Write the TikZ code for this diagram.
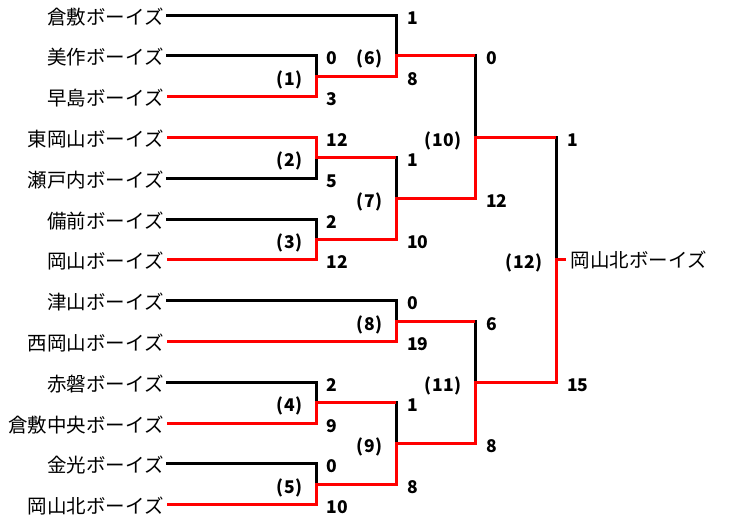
\documentclass[tikz,border=0pt]{standalone}
\usepackage{fontspec}
\newfontfamily\jp{Noto Sans CJK JP}
\begin{document}
\begin{tikzpicture}[x=1pt,y=-1pt,
  lw/.style={line width=3pt},
  lose/.style={lw, black, line cap=rect},
  win/.style={lw, red, line join=miter},
  team/.style={inner sep=0pt, anchor=base east, font=\jp\fontsize{19.5}{20}\selectfont},
  champ/.style={inner sep=0pt, anchor=base west, font=\jp\fontsize{19.5}{20}\selectfont},
  score/.style={inner sep=0pt, anchor=base west, font=\jp\bfseries\fontsize{17.5}{18}\selectfont},
  match/.style={inner sep=0pt, anchor=base east, font=\jp\bfseries\fontsize{17.5}{18}\selectfont}]
\useasboundingbox (0,0) rectangle (740,520);
% team line starts
\coordinate (A1) at (167,15);
\coordinate (A2) at (167,55.8);
\coordinate (A3) at (167,96.6);
\coordinate (A4) at (167,137.4);
\coordinate (A5) at (167,178.2);
\coordinate (A6) at (167,219);
\coordinate (A7) at (167,259.8);
\coordinate (A8) at (167,300.6);
\coordinate (A9) at (167,341.4);
\coordinate (A10) at (167,382.2);
\coordinate (A11) at (167,423);
\coordinate (A12) at (167,463.8);
\coordinate (A13) at (167,504.6);
% match verticals: top, bottom, output
\coordinate (m1T) at (316,55.8);  \coordinate (m1B) at (316,96.6);  \coordinate (m1O) at (316,76.2);
\coordinate (m2T) at (316,137.4); \coordinate (m2B) at (316,178.2); \coordinate (m2O) at (316,157.8);
\coordinate (m3T) at (316,219);   \coordinate (m3B) at (316,259.8); \coordinate (m3O) at (316,239.4);
\coordinate (m4T) at (316,382.2); \coordinate (m4B) at (316,423);   \coordinate (m4O) at (316,402.6);
\coordinate (m5T) at (316,463.8); \coordinate (m5B) at (316,504.6); \coordinate (m5O) at (316,484.2);
\coordinate (m6T) at (396,15);    \coordinate (m6B) at (396,76.2);  \coordinate (m6O) at (396,55.8);
\coordinate (m7T) at (396,157.8); \coordinate (m7B) at (396,239.4); \coordinate (m7O) at (396,198.6);
\coordinate (m8T) at (396,300.6); \coordinate (m8B) at (396,341.4); \coordinate (m8O) at (396,321);
\coordinate (m9T) at (396,402.6); \coordinate (m9B) at (396,484.2); \coordinate (m9O) at (396,443.4);
\coordinate (m10T) at (475,55.8); \coordinate (m10B) at (475,198.6); \coordinate (m10O) at (475,137.4);
\coordinate (m11T) at (475,321);  \coordinate (m11B) at (475,443.4); \coordinate (m11O) at (475,382.2);
\coordinate (m12T) at (556,137.4); \coordinate (m12B) at (556,382.2); \coordinate (m12O) at (556,259.8);
\coordinate (W) at (566,259.8);
% team names
\node[team] (T1) at (164,24) {倉敷ボーイズ};
\node[team] (T2) at (164,64.8) {美作ボーイズ};
\node[team] (T3) at (164,105.6) {早島ボーイズ};
\node[team] (T4) at (164,146.4) {東岡山ボーイズ};
\node[team] (T5) at (164,187.2) {瀬戸内ボーイズ};
\node[team] (T6) at (164,228) {備前ボーイズ};
\node[team] (T7) at (164,268.8) {岡山ボーイズ};
\node[team] (T8) at (164,309.6) {津山ボーイズ};
\node[team] (T9) at (164,350.4) {西岡山ボーイズ};
\node[team] (T10) at (164,391.2) {赤磐ボーイズ};
\node[team] (T11) at (164,432) {倉敷中央ボーイズ};
\node[team] (T12) at (164,472.8) {金光ボーイズ};
\node[team] (T13) at (164,513.6) {岡山北ボーイズ};
\node[champ] (CH) at (570.5,267.6) {岡山北ボーイズ};
% losing lines
\draw[lose] (A1) -- (m6T) -- (m6O);
\draw[lose] (A2) -- (m1T) -- (m1O);
\draw[lose] (A5) -- (m2B) -- (m2O);
\draw[lose] (A6) -- (m3T) -- (m3O);
\draw[lose] (A8) -- (m8T) -- (m8O);
\draw[lose] (A10) -- (m4T) -- (m4O);
\draw[lose] (A12) -- (m5T) -- (m5O);
\draw[lose] (m7T) -- (m7O);
\draw[lose] (m9T) -- (m9O);
\draw[lose] (m10T) -- (m10O);
\draw[lose] (m11T) -- (m11O);
\draw[lose] (m12T) -- (m12O);
% winning lines
\draw[win] (A3) -- (m1B) -- (m1O) -- (m6B) -- (m6O) -- (m10T);
\draw[win] (A4) -- (m2T) -- (m2O) -- (m7T);
\draw[win] (A7) -- (m3B) -- (m3O) -- (m7B) -- (m7O) -- (m10B) -- (m10O) -- (m12T);
\draw[win] (A9) -- (m8B) -- (m8O) -- (m11T);
\draw[win] (A11) -- (m4B) -- (m4O) -- (m9T);
\draw[win] (A13) -- (m5B) -- (m5O) -- (m9B) -- (m9O) -- (m11B) -- (m11O) -- (m12B) -- (m12O) -- (W);
% scores
\node[score] (s1a) at (326.5,64.8) {0};
\node[score] (s1b) at (326.5,105.6) {3};
\node[score] (s2a) at (326.5,146.4) {12};
\node[score] (s2b) at (326.5,187.2) {5};
\node[score] (s3a) at (326.5,228) {2};
\node[score] (s3b) at (326.5,268.8) {12};
\node[score] (s4a) at (326.5,391.2) {2};
\node[score] (s4b) at (326.5,432) {9};
\node[score] (s5a) at (326.5,472.8) {0};
\node[score] (s5b) at (326.5,513.6) {10};
\node[score] (s6a) at (407,24) {1};
\node[score] (s6b) at (407,85.2) {8};
\node[score] (s7a) at (407,166.8) {1};
\node[score] (s7b) at (407,248.4) {10};
\node[score] (s8a) at (407,309.6) {0};
\node[score] (s8b) at (407,350.4) {19};
\node[score] (s9a) at (407,411.6) {1};
\node[score] (s9b) at (407,493.2) {8};
\node[score] (s10a) at (486,64.8) {0};
\node[score] (s10b) at (486,207.6) {12};
\node[score] (s11a) at (486,330) {6};
\node[score] (s11b) at (486,452.4) {8};
\node[score] (s12a) at (567,146.4) {1};
\node[score] (s12b) at (567,391.2) {15};
% match numbers
\node[match] (n1) at (303,85.2) {(\kern1pt 1\kern1pt)};
\node[match] (n2) at (303,166.8) {(\kern1pt 2\kern1pt)};
\node[match] (n3) at (303,248.4) {(\kern1pt 3\kern1pt)};
\node[match] (n4) at (303,411.6) {(\kern1pt 4\kern1pt)};
\node[match] (n5) at (303,493.2) {(\kern1pt 5\kern1pt)};
\node[match] (n6) at (383,64.8) {(\kern1pt 6\kern1pt)};
\node[match] (n7) at (383,207.6) {(\kern1pt 7\kern1pt)};
\node[match] (n8) at (383,330) {(\kern1pt 8\kern1pt)};
\node[match] (n9) at (383,452.4) {(\kern1pt 9\kern1pt)};
\node[match] (n10) at (462,146.4) {(\kern1pt 10\kern1pt)};
\node[match] (n11) at (462,391.2) {(\kern1pt 11\kern1pt)};
\node[match] (n12) at (543,268.8) {(\kern1pt 12\kern1pt)};
\end{tikzpicture}
\end{document}
